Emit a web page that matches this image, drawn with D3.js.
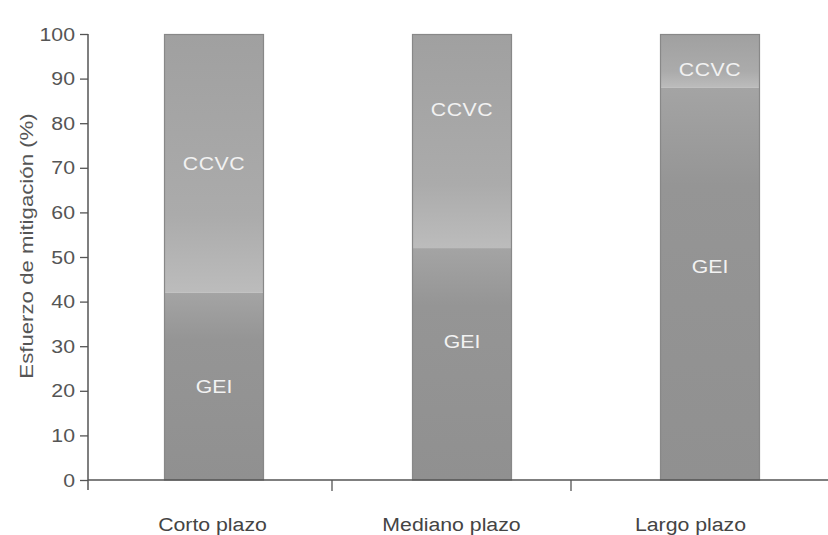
<!DOCTYPE html>
<html><head><meta charset="utf-8">
<script src="https://cdn.jsdelivr.net/npm/d3@7/dist/d3.min.js"></script>
<style>
html,body{margin:0;padding:0;background:#fff;}
svg{display:block;font-family:"Liberation Sans",Arial,sans-serif;}
</style></head>
<body>
<svg id="chart" width="828" height="535"></svg>
<script>
const categories = ["Corto plazo", "Mediano plazo", "Largo plazo"];
const gei  = [42, 52, 88];
const ccvc = [58, 48, 12];
const labelGEI  = [21, 31, 48];   // where the "GEI" label sits (value units)
const labelCCVC = [71, 83, 92];   // where the "CCVC" label sits (value units)
const yTicks = [0,10,20,30,40,50,60,70,80,90,100];
const yTitle = "Esfuerzo de mitigación (%)";

(function(){
const svg = d3.select("#chart");
const W = 828, H = 535;
const plotTop = 34, plotBottom = 480, plotLeft = 88;
const FS = 19, SX = 1.12;

const y = d3.scaleLinear().domain([0,100]).range([plotBottom, plotTop]);
const xAxisScale = d3.scaleBand().domain(categories).range([93, 810]);
const xBars = d3.scaleBand().domain(categories).range([90, 834]);

const defs = svg.append("defs");
const gC = defs.append("linearGradient").attr("id","gC").attr("x1",0).attr("y1",0).attr("x2",0).attr("y2",1);
gC.append("stop").attr("offset","0%").attr("stop-color","#a0a0a0");
gC.append("stop").attr("offset","70%").attr("stop-color","#ababab");
gC.append("stop").attr("offset","100%").attr("stop-color","#bcbcbc");
const gG = defs.append("linearGradient").attr("id","gG").attr("x1",0).attr("y1",0).attr("x2",0).attr("y2",1);
gG.append("stop").attr("offset","0%").attr("stop-color","#a4a4a4");
gG.append("stop").attr("offset","25%").attr("stop-color","#959595");
gG.append("stop").attr("offset","100%").attr("stop-color","#909090");

const rows = categories.map((c,i)=>({c, gei:gei[i], ccvc:ccvc[i], lg:labelGEI[i], lc:labelCCVC[i]}));
const bw = 100;
const cx = d => xBars(d.c) + xBars.bandwidth()/2;

const g = svg.append("g");
g.selectAll("rect.ccvc").data(rows).join("rect").attr("class","ccvc")
  .attr("x", d=>cx(d)-bw/2).attr("width", bw)
  .attr("y", d=>y(d.gei+d.ccvc)).attr("height", d=>y(d.gei)-y(d.gei+d.ccvc))
  .attr("fill","url(#gC)");
g.selectAll("rect.gei").data(rows).join("rect").attr("class","gei")
  .attr("x", d=>cx(d)-bw/2).attr("width", bw)
  .attr("y", d=>y(d.gei)).attr("height", d=>y(0)-y(d.gei))
  .attr("fill","url(#gG)");
g.selectAll("rect.out").data(rows).join("rect").attr("class","out")
  .attr("x", d=>cx(d)-bw/2+0.5).attr("width", bw-1)
  .attr("y", d=>y(d.gei+d.ccvc)+0.5).attr("height", d=>y(0)-y(d.gei+d.ccvc)-0.5)
  .attr("fill","none").attr("stroke","#888").attr("stroke-width",1.2);

g.selectAll("text.lc").data(rows).join("text").attr("class","lc")
  .attr("transform", d=>`translate(${cx(d)},${y(d.lc)}) scale(${SX},1)`).attr("dy","0.35em")
  .attr("text-anchor","middle").attr("font-size",FS).attr("letter-spacing",0.5).attr("fill","#f2f2f2").text("CCVC");
g.selectAll("text.lg").data(rows).join("text").attr("class","lg")
  .attr("transform", d=>`translate(${cx(d)},${y(d.lg)}) scale(${SX},1)`).attr("dy","0.35em")
  .attr("text-anchor","middle").attr("font-size",FS).attr("fill","#f2f2f2").text("GEI");

// Y axis
const yAxis = d3.axisLeft(y).tickValues(yTicks).tickSize(8).tickPadding(5).tickFormat(d3.format("d"));
const ya = svg.append("g").attr("transform",`translate(${plotLeft},0)`).call(yAxis);
ya.select(".domain").remove();
ya.append("line").attr("x1",0).attr("x2",0).attr("y1",plotTop).attr("y2",plotBottom+10).attr("stroke","#555").attr("stroke-width",1.5);
ya.selectAll(".tick line").attr("stroke","#555").attr("stroke-width",1.3);
ya.selectAll(".tick text").attr("fill","#555").attr("font-size",FS)
  .attr("font-family","Liberation Sans, Arial, sans-serif")
  .attr("x", -13/SX).attr("transform",`scale(${SX},1)`);

// X axis
const xa = svg.append("g");
xa.append("line").attr("x1",plotLeft).attr("x2",W).attr("y1",plotBottom).attr("y2",plotBottom).attr("stroke","#555").attr("stroke-width",1.5);
const boundaries = categories.slice(1).map(c => xAxisScale(c));
xa.selectAll("line.xt").data(boundaries).join("line").attr("class","xt")
  .attr("x1",d=>d).attr("x2",d=>d).attr("y1",plotBottom).attr("y2",plotBottom+11).attr("stroke","#555").attr("stroke-width",1.3);
xa.selectAll("text.xl").data(categories).join("text").attr("class","xl")
  .attr("transform", d=>`translate(${xAxisScale(d)+xAxisScale.bandwidth()/2},531) scale(${SX},1)`)
  .attr("text-anchor","middle").attr("font-size",FS).attr("fill","#444").text(d=>d);

svg.append("text").attr("transform",`translate(33,246) rotate(-90) scale(1.17,1)`)
  .attr("text-anchor","middle").attr("font-size",FS).attr("fill","#555").text(yTitle);
})();
</script>
</body></html>
